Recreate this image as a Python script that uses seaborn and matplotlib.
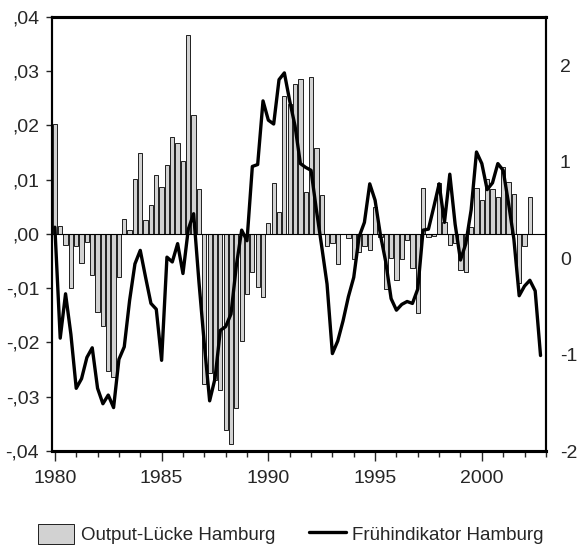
import numpy as np
import pandas as pd
import matplotlib
matplotlib.use("Agg")
import matplotlib.pyplot as plt
import seaborn as sns
from matplotlib.patches import Patch
from matplotlib.lines import Line2D
from matplotlib.ticker import FixedLocator, MultipleLocator, FuncFormatter

# Output-Lücke Hamburg (quarterly, 1980Q1 - 2002Q2), left axis
output_gap = [
    0.0203, 0.0015, -0.0020, -0.0099, -0.0023, -0.0054, -0.0015, -0.0075,
    -0.0144, -0.0170, -0.0252, -0.0263, -0.0080, 0.0028, 0.0007, 0.0101,
    0.0149, 0.0026, 0.0053, 0.0108, 0.0086, 0.0127, 0.0179, 0.0168,
    0.0134, 0.0367, 0.0220, 0.0083, -0.0276, -0.0256, -0.0269, -0.0288,
    -0.0361, -0.0388, -0.0321, -0.0198, -0.0110, -0.0070, -0.0098, -0.0117,
    0.0020, 0.0094, 0.0041, 0.0254, 0.0240, 0.0277, 0.0286, 0.0077,
    0.0290, 0.0159, 0.0072, -0.0022, -0.0017, -0.0056, 0.0000, -0.0008,
    -0.0046, -0.0034, -0.0022, -0.0030, 0.0049, -0.0005, -0.0102, -0.0045,
    -0.0084, -0.0047, -0.0011, -0.0062, -0.0146, 0.0084, -0.0005, -0.0003,
    0.0094, 0.0022, -0.0021, -0.0016, -0.0066, -0.0070, 0.0013, 0.0084,
    0.0062, 0.0102, 0.0083, 0.0069, 0.0123, 0.0096, 0.0073, -0.0091,
    -0.0023, 0.0069,
]

# Frühindikator Hamburg (quarterly, 1980Q1 - 2002Q4), right axis
indicator = [
    0.32, -0.83, -0.37, -0.79, -1.35, -1.25, -1.03, -0.93,
    -1.35, -1.51, -1.42, -1.55, -1.05, -0.92, -0.44, -0.06,
    0.08, -0.20, -0.47, -0.53, -1.06, 0.01, -0.04, 0.15,
    -0.16, 0.30, 0.46, -0.25, -0.89, -1.48, -1.25, -0.75,
    -0.71, -0.58, -0.08, 0.29, 0.18, 0.95, 0.97, 1.63,
    1.43, 1.39, 1.85, 1.92, 1.63, 1.37, 0.98, 0.94,
    0.91, 0.50, 0.12, -0.27, -0.99, -0.86, -0.65, -0.40,
    -0.20, 0.22, 0.37, 0.77, 0.60, 0.24, -0.04, -0.42,
    -0.54, -0.48, -0.45, -0.47, -0.32, 0.29, 0.30, 0.53,
    0.77, 0.37, 0.87, 0.35, -0.02, 0.15, 0.50, 1.10,
    0.98, 0.71, 0.78, 0.98, 0.91, 0.57, 0.20, -0.39,
    -0.29, -0.23, -0.34, -1.01,
]

left_ticks = [-0.04, -0.03, -0.02, -0.01, 0.0, 0.01, 0.02, 0.03, 0.04]
right_ticks = [-2, -1, 0, 1, 2]
year_ticks = [1980, 1985, 1990, 1995, 2000]
legend_labels = ["Output-Lücke Hamburg", "Frühindikator Hamburg"]

bars = pd.DataFrame({"t": 1980 + np.arange(len(output_gap)) / 4, "gap": output_gap})
line = pd.DataFrame({"t": 1980 + np.arange(len(indicator)) / 4, "ind": indicator})

sns.set_style("ticks")
plt.rcParams["font.family"] = ["Liberation Sans", "DejaVu Sans"]
plt.rcParams["font.size"] = 14

fig = plt.figure(figsize=(5.78, 5.47), dpi=100)
ax = fig.add_axes([0.0894, 0.1755, 0.855, 0.7935])

sns.barplot(data=bars, x="t", y="gap", native_scale=True, width=0.8,
            color="#d2d2d2", edgecolor="black", linewidth=0.6,
            saturation=1, errorbar=None, ax=ax)
ax.axhline(0, color="black", lw=0.8, zorder=1)

ax.set_xlim(1979.85, 2003.0)
ax.set_ylim(-0.04, 0.04)
ax.yaxis.set_major_locator(FixedLocator(left_ticks))
ax.yaxis.set_major_formatter(FuncFormatter(
    lambda v, p: ("-" if v < -1e-9 else "") + ",%02d" % round(abs(v) * 100)))
ax.xaxis.set_major_locator(FixedLocator(year_ticks))
ax.xaxis.set_minor_locator(MultipleLocator(1))
ax.xaxis.set_major_formatter(FuncFormatter(lambda v, p: "%d" % v))
ax.set_xlabel("")
ax.set_ylabel("")
ax.tick_params(axis="y", direction="out", length=4, width=1, pad=5, labelsize=14)
ax.tick_params(axis="x", which="major", direction="out", length=7, width=1,
               pad=7, labelsize=14)
ax.tick_params(axis="x", which="minor", direction="out", length=4.5, width=1)

ax2 = ax.twinx()
sns.lineplot(data=line, x="t", y="ind", color="black", lw=2.4, ax=ax2)
ax2.set_ylim(-2, 2.5)
ax2.yaxis.set_major_locator(FixedLocator(right_ticks))
ax2.yaxis.set_major_formatter(FuncFormatter(lambda v, p: "%d" % v))
ax2.tick_params(axis="y", length=0, pad=10, labelsize=14)
ax2.set_ylabel("")
ax2.set_xlim(1979.85, 2003.0)

for a in (ax, ax2):
    for side in ["left", "right", "top", "bottom"]:
        a.spines[side].set_visible(True)
        a.spines[side].set_color("black")
        a.spines[side].set_linewidth(1.5)
    a.spines["top"].set_linewidth(2.2)
    a.spines["bottom"].set_linewidth(2.2)

handles = [Patch(facecolor="#d2d2d2", edgecolor="black", linewidth=0.6),
           Line2D([0], [0], color="black", lw=2.4)]
fig.legend(handles, legend_labels, loc="center", bbox_to_anchor=(0.503, 0.024),
           ncol=2, frameon=False, handlelength=1.95, handleheight=1.25,
           handletextpad=0.35, columnspacing=1.8, fontsize=13.5)

fig.savefig("out.png", dpi=100)
